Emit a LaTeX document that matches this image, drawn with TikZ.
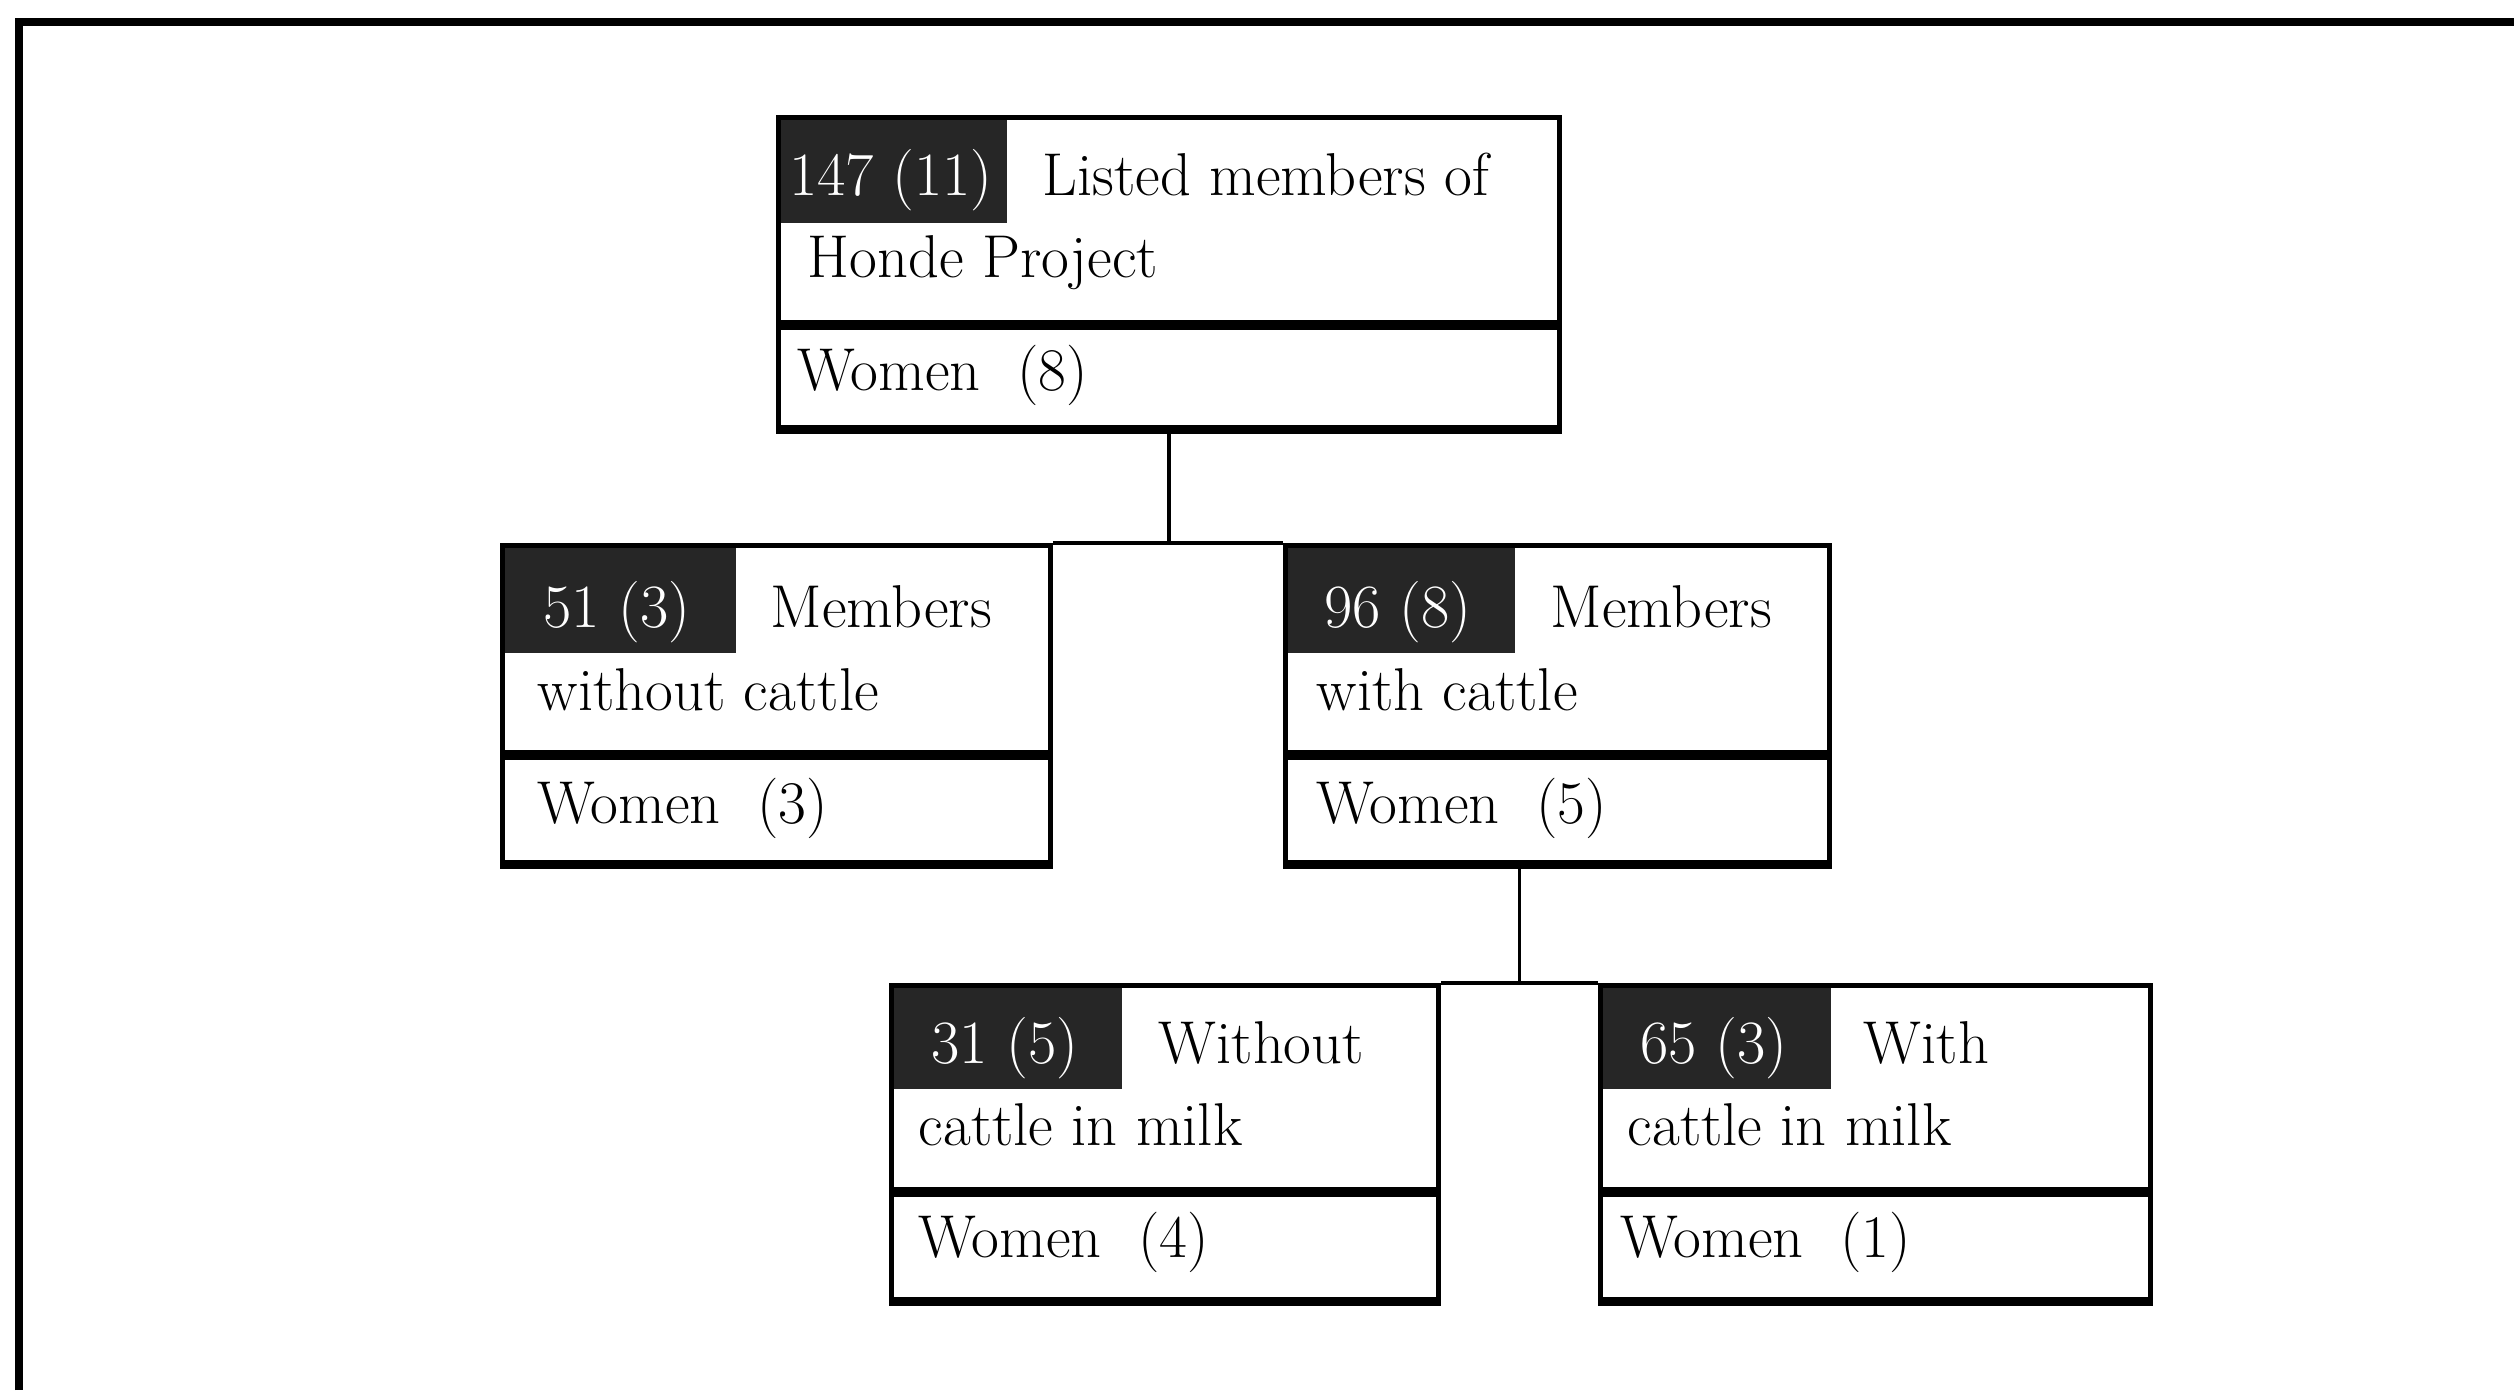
\documentclass[tikz,border=0pt]{standalone}
\usetikzlibrary{positioning,calc}
\tikzset{
  box/.style={draw, line width=1.4pt, inner sep=0pt, anchor=north west},
  tag/.style={fill=black!85, inner sep=0pt, anchor=north west},
  num/.style={text=white, anchor=base, inner sep=0pt, font=\fontsize{17.5}{20}\selectfont},
  lbl/.style={anchor=base west, inner sep=0pt, font=\fontsize{17.2}{20}\selectfont},
  link/.style={line width=1pt}
}

\begin{document}
\begin{tikzpicture}[x=0.01cm, y=-0.01cm]
                \useasboundingbox (0,0) rectangle (2514,1390);

                %page frame
                \draw[line width=2pt] (19,1390) -- (19,22) -- (2514,22);

                %top box: listed members
                \node[tag, minimum width=2.30cm, minimum height=1.07cm] (toptag) at (776,115) {};
                \node[box, minimum width=7.81cm, minimum height=2.05cm] (top) at (776,115) {};
                \node[box, minimum width=7.81cm, minimum height=1.00cm] (topw) at (top.south west) {};
                \node[num] (topn) at (891,195) {147 (11)};
                \node[lbl] (topa) at (1042,195) {Listed members of};
                \node[lbl] (topb) at (807,277) {Honde Project};
                \node[lbl] (topc) at (797,390) {Women~~(8)};

                %middle left: without cattle
                \node[tag, minimum width=2.35cm, minimum height=1.09cm] (mltag) at (500,543) {};
                \node[box, minimum width=5.48cm, minimum height=2.07cm] (ml) at (500,543) {};
                \node[box, minimum width=5.48cm, minimum height=1.05cm] (mlw) at (ml.south west) {};
                \node[num] (mln) at (617,627) {51 (3)};
                \node[lbl] (mla) at (770,627) {Members};
                \node[lbl] (mlb) at (537,710) {without cattle};
                \node[lbl] (mlc) at (537,823) {Women~~(3)};

                %middle right: with cattle
                \node[tag, minimum width=2.31cm, minimum height=1.09cm] (mrtag) at (1283,543) {};
                \node[box, minimum width=5.44cm, minimum height=2.07cm] (mr) at (1283,543) {};
                \node[box, minimum width=5.44cm, minimum height=1.05cm] (mrw) at (mr.south west) {};
                \node[num] (mrn) at (1398,627) {96 (8)};
                \node[lbl] (mra) at (1550,627) {Members};
                \node[lbl] (mrb) at (1316,710) {with cattle};
                \node[lbl] (mrc) at (1316,823) {Women~~(5)};

                %bottom left: without cattle in milk
                \node[tag, minimum width=2.32cm, minimum height=1.05cm] (bltag) at (889,983) {};
                \node[box, minimum width=5.47cm, minimum height=2.04cm] (bl) at (889,983) {};
                \node[box, minimum width=5.47cm, minimum height=1.05cm] (blw) at (bl.south west) {};
                \node[num] (bln) at (1005,1063) {31 (5)};
                \node[lbl] (bla) at (1158,1063) {Without};
                \node[lbl] (blb) at (918,1145) {cattle in milk};
                \node[lbl] (blc) at (918,1257) {Women~~(4)};

                %bottom right: with cattle in milk
                \node[tag, minimum width=2.32cm, minimum height=1.05cm] (brtag) at (1598,983) {};
                \node[box, minimum width=5.50cm, minimum height=2.04cm] (br) at (1598,983) {};
                \node[box, minimum width=5.50cm, minimum height=1.05cm] (brw) at (br.south west) {};
                \node[num] (brn) at (1714,1063) {65 (3)};
                \node[lbl] (bra) at (1863,1063) {With};
                \node[lbl] (brb) at (1627,1145) {cattle in milk};
                \node[lbl] (brc) at (1620,1257) {Women~~(1)};

                %heavier bottom edges
                \foreach \b in {topw,mlw,mrw,blw,brw}
                    \draw[line width=2pt] (\b.south west) -- (\b.south east);

                %tree links
                \draw[link] (topw.south) -- (topw.south |- ml.north);
                \draw[link] (ml.north east) -- (mr.north west);
                \coordinate (bmid) at ($(bl.north east)!0.5!(br.north west)$);
                \draw[link] (bl.north east) -- (br.north west);
                \draw[link] (bmid) -- (bmid |- mrw.south);
\end{tikzpicture}
\end{document}
